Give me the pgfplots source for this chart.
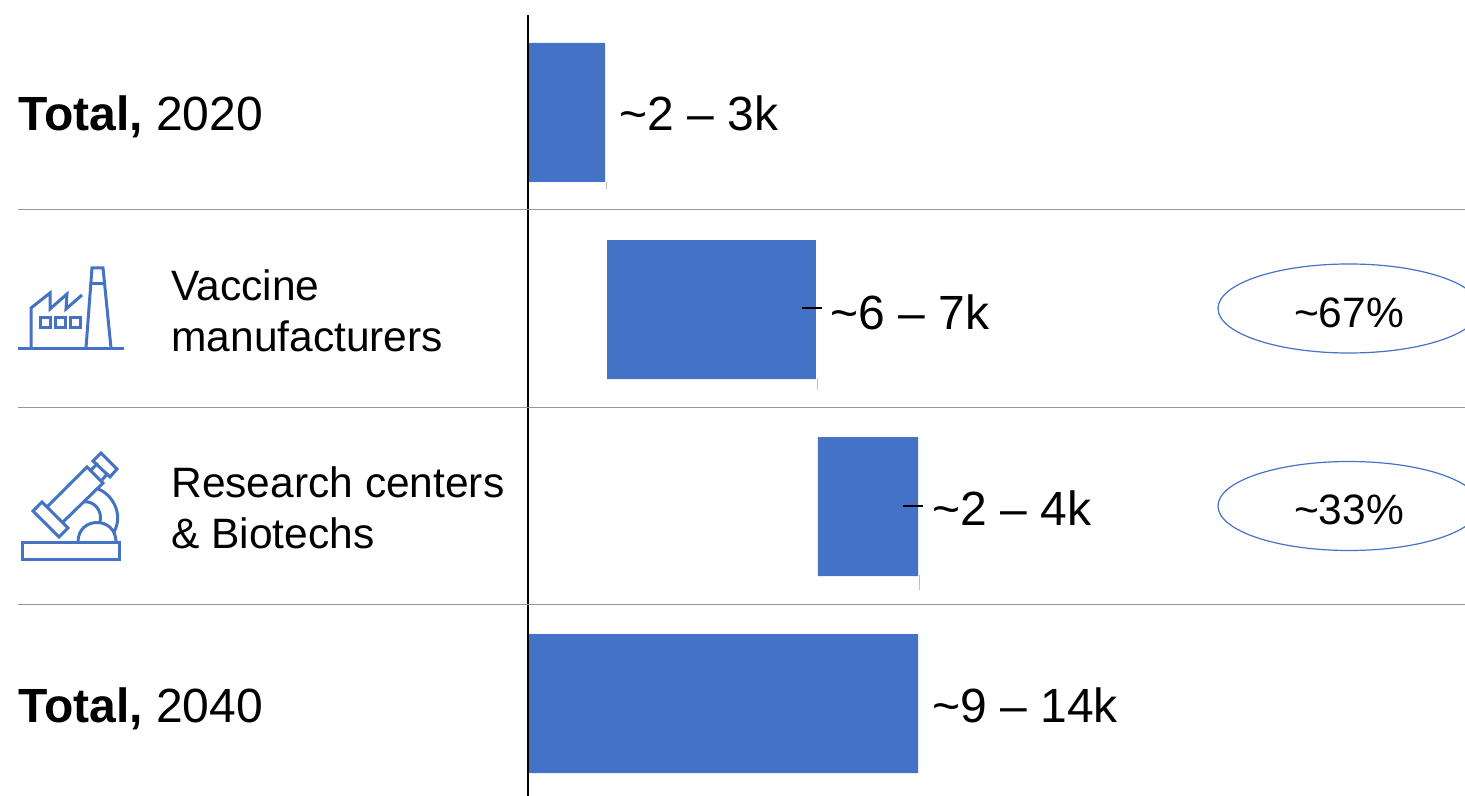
\documentclass[border=0pt]{standalone}
\usepackage{pgfplots}
\pgfplotsset{compat=1.18}
\usepackage{fontspec}
\setmainfont{Liberation Sans}
\definecolor{barblue}{HTML}{4472C4}
\definecolor{rulegray}{HTML}{969696}
\newcommand{\fbig}{\fontsize{24}{28}\selectfont}
\newcommand{\fmid}{\fontsize{21.25}{25}\selectfont}
\begin{document}
\begin{tikzpicture}[x=0.5pt,y=-0.5pt]
\useasboundingbox (0,0) rectangle (1465,796);
\begin{axis}[
  at={(0,0)}, anchor=north west,
  scale only axis, width=732.5pt, height=398pt,
  axis lines=none, clip=false,
  xbar stacked, bar width=69.5pt,
  y dir=reverse,
  xmin=-16.246, xmax=28.83,
  ymin=-0.571, ymax=3.4695,
]
% invisible offset, then visible length (thousands)
\addplot[draw=none, fill=none] coordinates {(0,0) (2.43,1) (8.92,2) (0,3)};
\addplot[draw=none, fill=barblue] coordinates {(2.37,0) (6.43,1) (3.08,2) (12,3)};
\end{axis}
% vertical baseline and separators
\draw[black, line width=1pt] (528,15) -- (528,796);
\foreach \y in {210,407,604} \draw[rulegray, line width=0.5pt] (18,\y) -- (1465,\y);
% small artefacts
\draw[black, line width=0.6pt] (802,308) -- (822,308);
\draw[black, line width=0.6pt] (903,506) -- (923,506);
\draw[lightgray, line width=0.5pt] (606,182) -- (606,189);
\draw[lightgray, line width=0.5pt] (817,378) -- (817,390);
\draw[lightgray, line width=0.5pt] (919,575) -- (919,590);
% left labels
\tikzset{t/.style={anchor=base west, inner sep=0pt, text=black}}
\node[t] at (18,131) {\fbig\textbf{Total,} 2020};
\node[t] at (18,722) {\fbig\textbf{Total,} 2040};
\node[t] at (171,301) {\fmid Vaccine};
\node[t] at (171,351) {\fmid manufacturers};
\node[t] at (171,497) {\fmid Research centers};
\node[t] at (171,548) {\fmid \& Biotechs};
% value labels
\node[t] at (619,131) {\fbig\textasciitilde2 -- 3k};
\node[t] at (830,329) {\fbig\textasciitilde6 -- 7k};
\node[t] at (932,525) {\fbig\textasciitilde2 -- 4k};
\node[t] at (932,722) {\fbig\textasciitilde9 -- 14k};
% ellipses
\begin{scope}
\clip (0,0) rectangle (1465,796);
\draw[barblue, line width=0.6pt] (1349,308.5) ellipse [x radius=131, y radius=44.5];
\draw[barblue, line width=0.6pt] (1349,506) ellipse [x radius=131, y radius=44.5];
\end{scope}
\node[anchor=base, inner sep=0pt] at (1349,327.5) {\fmid\textasciitilde67\%};
\node[anchor=base, inner sep=0pt] at (1349,524.5) {\fmid\textasciitilde33\%};
% factory icon
\begin{scope}[barblue, line width=1.5pt, line join=miter]
\draw (18,348) -- (124,348);
\draw (31,348) -- (31,308) -- (50,293) -- (50,309) -- (67,294) -- (66,309) -- (82,295);
\draw (40,318) rectangle (50,328);
\draw (55,318) rectangle (65,328);
\draw (70,318) rectangle (80,328);
\draw (86,348) -- (92,268) -- (103,268) -- (111,348);
\draw (91,284) -- (105,284);
% microscope icon
\draw (22,542) rectangle (119,559);
\draw (78,542) .. controls (78,516) and (116,516) .. (116,542);
\draw (47,507) -- (87,467) -- (103,483) -- (63,522);
\draw (33,511) -- (42,502) -- (68,528) -- (59,537) -- cycle;
\draw (93,461) -- (101,453) -- (117,469) -- (110,477) -- cycle;
\draw (91,470) -- (98,463);
\draw (102,480) -- (108,473);
\draw (98,489) .. controls (112,494) and (124,514) .. (114,532);
\draw (83,502) .. controls (93,500) and (103,510) .. (100,522);
\end{scope}
\end{tikzpicture}
\end{document}
